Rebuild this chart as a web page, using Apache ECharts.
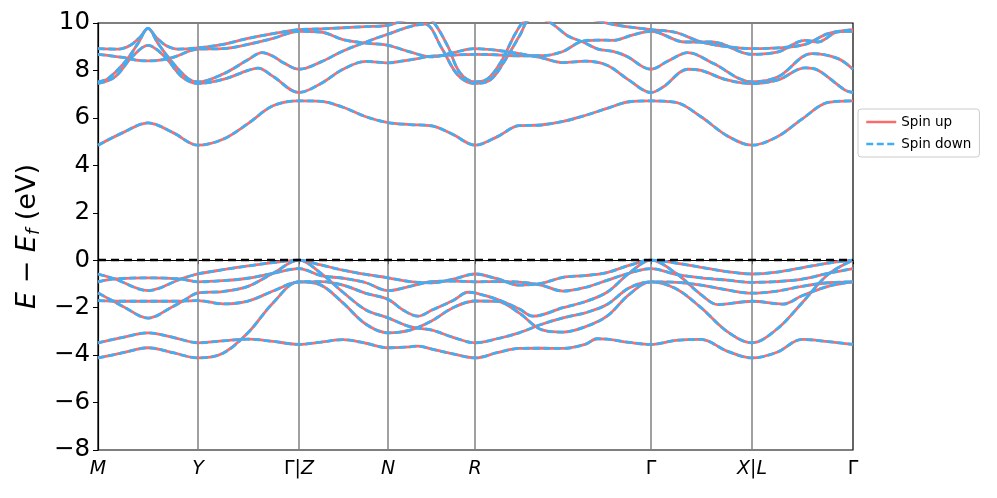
<!DOCTYPE html>
<html><head><meta charset="utf-8">
<script src="https://cdn.jsdelivr.net/npm/echarts@6/dist/echarts.min.js"></script>
<style>html,body{margin:0;padding:0;background:#fff}#c{width:997px;height:498px}</style>
</head><body><div id="c"></div>
<script>
const kTicks = [0, 100, 201, 290, 377, 553, 654, 755];
const kLabels = ['M', 'Y', 'Γ|Z', 'N', 'R', 'Γ', 'X|L', 'Γ'];
const yTicks = [-8, -6, -4, -2, 0, 2, 4, 6, 8, 10];
const seriesNames = ['Spin up', 'Spin down'];

const V1 = [[0,-0.58],[17,-0.79],[50,-1.28],[83,-0.79],[100,-0.58],[125,-0.40],[150,-0.24],[175,-0.10],[201,0],[223,-0.20],[245,-0.42],[268,-0.60],[290,-0.74],[312,-0.90],[334,-0.95],[355,-0.80],[377,-0.58],[399,-0.78],[421,-1.05],[443,-0.98],[465,-0.72],[487,-0.65],[509,-0.52],[531,-0.22],[553,0],[578,-0.12],[603,-0.30],[629,-0.48],[654,-0.58],[679,-0.50],[704,-0.32],[730,-0.12],[755,0]];
const V2 = [[0,-0.91],[17,-0.79],[50,-0.74],[83,-0.79],[100,-0.91],[125,-0.86],[150,-0.76],[175,-0.55],[201,-0.35],[223,-0.65],[245,-0.76],[268,-0.95],[290,-1.28],[312,-1.10],[334,-0.90],[355,-0.88],[377,-0.91],[399,-0.90],[421,-0.92],[443,-1.05],[465,-1.30],[487,-1.15],[509,-0.85],[531,-0.55],[553,-0.35],[578,-0.60],[603,-0.74],[629,-0.84],[654,-0.93],[679,-0.90],[704,-0.80],[730,-0.55],[755,-0.35]];
const V3 = [[0,-1.38],[15,-1.72],[25,-1.95],[50,-2.44],[75,-1.95],[85,-1.72],[100,-1.38],[125,-1.32],[150,-1.10],[175,-0.55],[201,0],[223,-0.55],[245,-1.35],[268,-2.10],[290,-2.43],[312,-2.80],[334,-2.95],[355,-3.25],[377,-3.48],[399,-3.31],[421,-3.06],[443,-2.71],[465,-2.43],[487,-2.22],[509,-1.87],[531,-1.17],[553,-0.91],[578,-1.20],[603,-2.00],[629,-3.00],[654,-3.48],[679,-2.90],[704,-1.80],[730,-0.60],[755,0]];
const V4 = [[0,-1.70],[25,-1.73],[50,-1.73],[75,-1.73],[100,-1.70],[125,-1.84],[150,-1.72],[175,-1.30],[201,-0.91],[223,-0.90],[245,-1.05],[268,-1.40],[290,-1.65],[305,-2.10],[320,-2.36],[334,-2.10],[355,-1.70],[370,-1.35],[377,-1.38],[399,-1.65],[421,-2.05],[435,-2.36],[465,-2.00],[487,-1.75],[509,-1.35],[531,-0.55],[553,0],[578,-0.55],[603,-1.45],[620,-1.87],[654,-1.73],[685,-1.85],[704,-1.50],[730,-1.10],[755,-0.91]];
const V5 = [[0,-3.48],[25,-3.25],[50,-3.06],[75,-3.25],[100,-3.48],[125,-3.40],[150,-3.33],[175,-3.42],[201,-3.55],[223,-3.45],[245,-3.35],[268,-3.50],[290,-3.69],[312,-3.65],[320,-3.62],[334,-3.75],[355,-3.95],[377,-4.12],[399,-3.90],[421,-3.72],[443,-3.71],[465,-3.72],[487,-3.55],[499,-3.31],[509,-3.33],[531,-3.46],[553,-3.55],[578,-3.38],[603,-3.34],[629,-3.83],[654,-4.12],[679,-3.88],[704,-3.34],[730,-3.43],[755,-3.55]];
const V6 = [[0,-4.12],[25,-3.90],[50,-3.69],[75,-3.90],[100,-4.12],[125,-3.92],[150,-3.06],[175,-1.80],[201,-0.91],[223,-1.05],[245,-1.80],[268,-2.70],[290,-3.06],[312,-2.95],[334,-2.55],[355,-2.00],[377,-1.72],[399,-1.73],[421,-2.22],[443,-2.92],[465,-3.03],[487,-2.81],[509,-2.36],[531,-1.45],[553,-0.91],[578,-0.93],[603,-1.05],[629,-1.25],[654,-1.39],[679,-1.30],[704,-1.10],[730,-0.95],[755,-0.91]];

const C1 = [[0,4.85],[25,5.38],[50,5.79],[75,5.38],[100,4.85],[125,5.10],[150,5.76],[175,6.51],[201,6.72],[223,6.70],[245,6.45],[268,6.05],[290,5.80],[312,5.72],[334,5.66],[355,5.30],[377,4.85],[399,5.20],[421,5.67],[443,5.70],[465,5.85],[487,6.10],[509,6.40],[531,6.68],[553,6.72],[578,6.65],[603,6.05],[629,5.25],[654,4.85],[679,5.20],[704,5.95],[730,6.65],[755,6.72]];
const C2 = [[0,7.45],[17,7.73],[34,8.57],[50,9.06],[67,8.57],[84,7.73],[100,7.45],[125,7.62],[150,8.00],[160,8.10],[175,7.75],[201,7.07],[223,7.45],[245,8.05],[268,8.38],[290,8.32],[312,8.45],[334,8.60],[355,8.65],[377,8.68],[399,8.66],[421,8.62],[443,8.62],[465,8.80],[482,9.20],[500,9.28],[515,9.27],[535,9.50],[553,9.65],[587,9.20],[614,9.20],[654,8.68],[680,8.78],[707,9.27],[720,9.20],[740,9.63],[755,9.65]];
const C3 = [[0,7.52],[10,7.66],[27,8.36],[40,9.14],[50,9.77],[60,9.14],[74,8.36],[90,7.66],[100,7.52],[125,7.85],[150,8.45],[164,8.75],[175,8.60],[184,8.36],[201,8.05],[223,8.36],[245,8.82],[268,9.20],[290,9.53],[312,9.85],[327,9.95],[344,8.92],[360,7.80],[377,7.45],[392,7.59],[405,8.29],[422,9.49],[432,10.15],[445,10.15],[455,9.94],[470,9.45],[485,9.20],[500,8.90],[515,8.80],[530,8.57],[545,8.15],[553,8.05],[570,8.40],[590,8.75],[615,8.30],[654,7.52],[680,7.73],[714,8.71],[740,8.50],[755,8.05]];
const C4 = [[0,8.68],[25,8.55],[40,8.42],[50,8.40],[60,8.42],[75,8.55],[100,8.90],[125,8.92],[150,9.10],[175,9.35],[201,9.65],[223,9.62],[245,9.30],[268,9.15],[290,9.06],[312,8.78],[334,8.57],[355,8.75],[377,8.92],[399,8.85],[421,8.71],[443,8.54],[465,8.33],[487,8.39],[509,8.22],[531,7.59],[553,7.07],[565,7.30],[590,8.05],[603,8.00],[629,7.60],[654,7.45],[680,7.60],[707,8.11],[720,8.01],[747,7.17],[755,7.07]];
const C5 = [[0,8.92],[20,8.90],[32,9.05],[42,9.40],[50,9.77],[58,9.40],[68,9.05],[80,8.90],[100,8.95],[125,9.10],[150,9.35],[175,9.55],[201,9.72],[223,9.75],[245,9.80],[268,9.85],[290,9.90],[305,10.1],[327,10.3],[337,9.95],[350,9.00],[362,7.90],[377,7.52],[390,7.66],[403,8.36],[418,9.60],[428,10.1],[470,10.3],[520,9.9],[553,9.72],[578,9.60],[603,9.20],[629,9.00],[654,8.92],[680,8.95],[707,9.10],[730,9.55],[755,9.72]];

const bands = [V1, V2, V3, V4, V5, V6, C1, C2, C3, C4, C5];

function richLabel(s) {
  return s.split('|').map(function (p) {
    return p === 'Γ' ? '{u|Γ}' : '{i|' + p + '}';
  }).join('{u||}');
}

const chart = echarts.init(document.getElementById('c'), null, {renderer: 'canvas'});
const series = [];
const styles = [
  {color: '#fa6b6b', type: 'solid'},
  {color: '#41aef2', type: [7, 3.5]}
];
styles.forEach(function (st, si) {
  bands.forEach(function (b, bi) {
    const s = {
      name: seriesNames[si], type: 'line', data: b, showSymbol: false, symbol: 'none',
      smooth: 0.35, clip: true, z: 2 + si,
      lineStyle: {color: st.color, width: 2.8, type: st.type},
      itemStyle: {color: st.color},
      silent: true, animation: false
    };
    if (si === 1 && bi === 0) {
      s.markLine = {
        silent: true, symbol: 'none', animation: false, label: {show: false}, z: 1,
        lineStyle: {color: '#808080', width: 1.5, type: 'solid'},
        data: kTicks.slice(1, -1).map(function (k) { return {xAxis: k}; })
      };
    }
    if (si === 1 && bi === 1) {
      s.markLine = {
        silent: true, symbol: 'none', animation: false, label: {show: false}, z: 10,
        lineStyle: {color: '#000', width: 2.4, type: [8, 5], opacity: 1},
        data: [{yAxis: 0}]
      };
    }
    series.push(s);
  });
});

chart.setOption({
  animation: false,
  backgroundColor: '#fff',
  grid: {left: 98, right: 144, top: 23, bottom: 48, show: true, borderColor: '#000', borderWidth: 1.2, containLabel: false},
  legend: {
    type: 'plain',
    data: ['Spin up', 'Spin down'],
    orient: 'vertical', left: 858, top: 109, itemWidth: 30, itemHeight: 12, itemGap: 8,
    itemStyle: {opacity: 0},
    lineStyle: {width: 2.5},
    backgroundColor: '#fff', borderColor: '#cccccc', borderWidth: 1, borderRadius: 3, padding: [6, 8, 6, 7],
    textStyle: {fontFamily: 'DejaVu Sans', fontSize: 13.5, color: '#000'}
  },
  xAxis: {
    type: 'value', min: 0, max: 755,
    axisLine: {show: true, lineStyle: {color: '#000', width: 1.2}},
    splitLine: {show: false},
    axisTick: {show: true, customValues: kTicks, length: 4, inside: false, lineStyle: {color: '#000', width: 1}},
    axisLabel: {
      customValues: kTicks, margin: 10, color: '#000',
      formatter: function (v) { const i = kTicks.indexOf(v); return i >= 0 ? richLabel(kLabels[i]) : ''; },
      rich: {
        i: {fontFamily: 'DejaVu Sans', fontStyle: 'italic', fontSize: 19, color: '#000'},
        u: {fontFamily: 'DejaVu Sans', fontSize: 19, color: '#000'}
      }
    }
  },
  yAxis: {
    type: 'value', min: -8, max: 10, interval: 2,
    axisLine: {show: true, lineStyle: {color: '#000', width: 1.2}},
    splitLine: {show: false},
    axisTick: {show: true, length: 5, lineStyle: {color: '#000'}},
    axisLabel: {fontFamily: 'DejaVu Sans', fontSize: 24.5, color: '#000', margin: 8,
      formatter: function (v) { return String(v).replace('-', '\u2212'); }},
    name: '{i|E} − {i|E}{s|f} (eV)', nameLocation: 'middle', nameRotate: 90, nameGap: 52,
    nameTextStyle: {
      fontFamily: 'DejaVu Sans', fontSize: 27, color: '#000',
      rich: {
        i: {fontFamily: 'DejaVu Sans', fontStyle: 'italic', fontSize: 27},
        s: {fontFamily: 'DejaVu Sans', fontStyle: 'italic', fontSize: 18, verticalAlign: 'bottom', padding: [11, 0, 0, 0]}
      }
    }
  },
  series: series
});
</script></body></html>
